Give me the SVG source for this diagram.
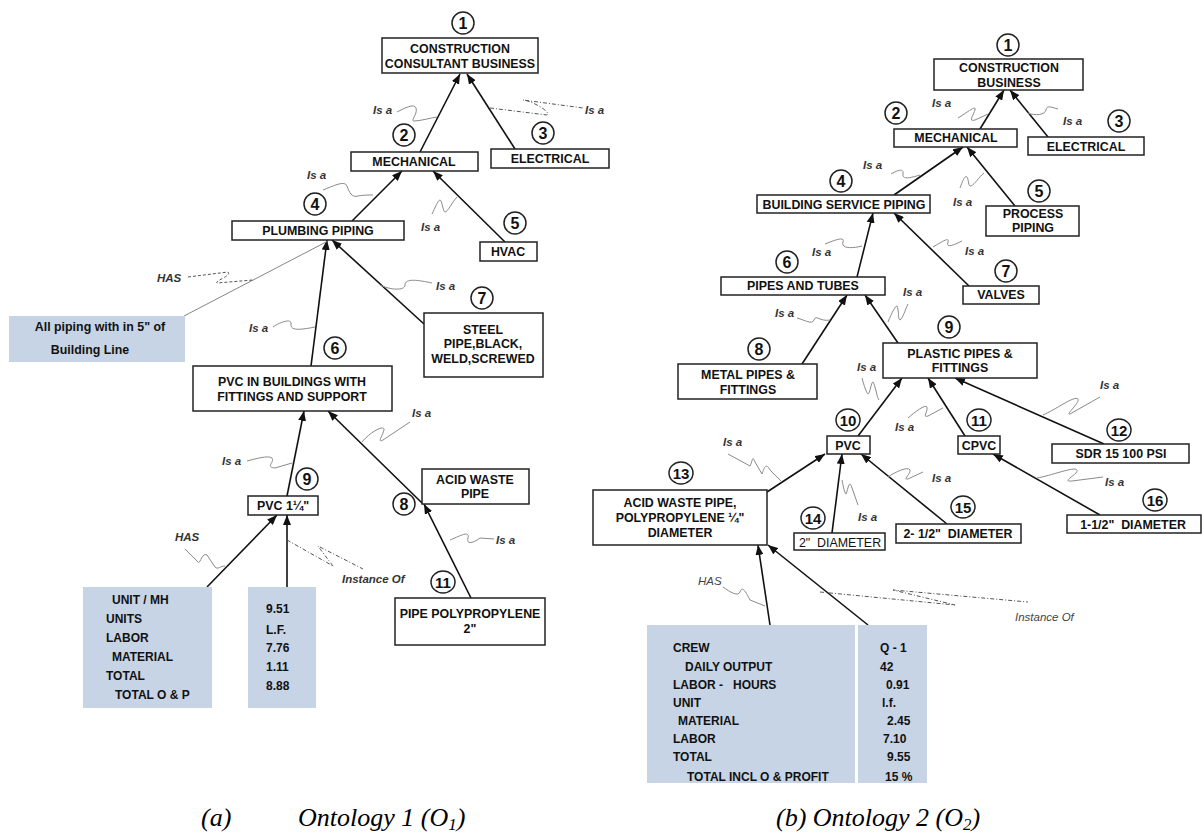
<svg xmlns="http://www.w3.org/2000/svg" width="1202" height="832" viewBox="0 0 1202 832">
<defs>
<marker id="ah" markerUnits="userSpaceOnUse" markerWidth="11" markerHeight="8" refX="10" refY="4" orient="auto">
<path d="M0,0 L10,4 L0,8 z" fill="#111"/>
</marker>
<style>
.box{fill:#fff;stroke:#222;stroke-width:1.5}
.circ{fill:#fff;stroke:#222;stroke-width:1.5}
.lbl{font-family:"Liberation Sans",Arial,sans-serif;font-weight:bold;font-size:12.4px;fill:#111;text-anchor:middle}
.reg{font-weight:normal}
.num{font-family:"Liberation Sans",Arial,sans-serif;font-weight:bold;font-size:16px;fill:#111;text-anchor:middle}
.num2{font-size:15px}
.arr{stroke:#111;stroke-width:1.6;fill:none;marker-end:url(#ah)}
.thin{stroke:#777;stroke-width:0.9;fill:none}
.sq{stroke:#8a8a8a;stroke-width:1;fill:none}
.dd{stroke:#555;stroke-width:1;fill:none;stroke-dasharray:4 2 1 2}
.ds{stroke:#555;stroke-width:1;fill:none;stroke-dasharray:3 2}
.rel{font-family:"Liberation Sans",Arial,sans-serif;font-style:italic;font-weight:bold;font-size:11.5px;fill:#333}
.relr{font-weight:normal;fill:#444}
.blue{fill:#c6d4e6}
.tbl{font-family:"Liberation Sans",Arial,sans-serif;font-weight:bold;font-size:12px;fill:#111}
.cap{font-family:"Liberation Serif","Times New Roman",serif;font-style:italic;font-size:26px;fill:#000}
</style>
</defs>
<rect width="1202" height="832" fill="#fff"/>

<!-- ===== Connectors ===== -->
<g id="connectors">
<!-- left ontology -->
<line class="arr" x1="420" y1="152" x2="460" y2="74"/>
<line class="arr" x1="515" y1="149" x2="467" y2="74"/>
<line class="arr" x1="352" y1="221" x2="402" y2="171"/>
<line class="arr" x1="505" y1="242" x2="433" y2="171"/>
<line class="arr" x1="311" y1="366" x2="327" y2="240"/>
<line class="arr" x1="424" y1="324" x2="332" y2="240"/>
<line class="thin" x1="184" y1="316" x2="328" y2="241"/>
<line class="arr" x1="287" y1="496" x2="304" y2="411"/>
<line class="arr" x1="422" y1="503" x2="328" y2="411"/>
<line class="arr" x1="471" y1="598" x2="424" y2="504"/>
<line class="arr" x1="207" y1="587" x2="277" y2="515"/>
<line class="arr" x1="287" y1="587" x2="287" y2="515"/>
<!-- left relation squiggles -->
<path class="sq" d="M397,112 C405,108 414,103 416,108 C418,114 410,121 414,121 C420,121 430,118 437,117"/>
<path class="dd" d="M490,108 L547,115 C552,112 530,100 523,100 L583,108"/>
<path class="sq" d="M323,190 C333,186 345,180 347,186 C349,192 352,198 358,196 C363,195 368,195 373,195"/>
<path class="sq" d="M432,214 C435,208 438,200 440,200 C442,200 443,212 445,212 C448,212 452,202 457,197"/>
<path class="ds" d="M188,277 L228,272 C232,276 214,281 217,283 L253,280"/>
<path class="sq" d="M273,327 C280,322 292,318 291,324 C290,331 300,330 315,327"/>
<path class="sq" d="M380,285 C390,290 405,291 405,285 C405,278 418,280 432,283"/>
<path class="sq" d="M362,442 C370,432 385,424 384,430 C382,437 377,443 383,440 L410,422"/>
<path class="sq" d="M247,461 C255,459 268,455 272,458 C275,462 265,467 275,468 L292,463"/>
<path class="sq" d="M185,549 L198,562 C200,565 202,552 207,555 L215,567 C218,570 220,566 225,566"/>
<path class="dd" d="M287,540 L333,566 C336,570 320,549 318,546 L363,569"/>
<path class="sq" d="M450,540 C460,536 470,530 468,538 C466,546 475,542 480,538 L494,539"/>

<!-- right ontology -->
<line class="arr" x1="980" y1="129" x2="1004" y2="90"/>
<line class="arr" x1="1048" y1="137" x2="1010" y2="90"/>
<line class="arr" x1="894" y1="195" x2="963" y2="147"/>
<line class="arr" x1="1015" y1="206" x2="967" y2="147"/>
<line class="arr" x1="857" y1="277" x2="873" y2="213"/>
<line class="arr" x1="969" y1="286" x2="894" y2="213"/>
<line class="arr" x1="802" y1="364" x2="847" y2="295"/>
<line class="arr" x1="898" y1="343" x2="865" y2="295"/>
<line class="arr" x1="858" y1="436" x2="902" y2="378"/>
<line class="arr" x1="965" y1="436" x2="928" y2="378"/>
<line class="arr" x1="1104" y1="444" x2="955" y2="378"/>
<line class="arr" x1="767" y1="492" x2="825" y2="454"/>
<line class="arr" x1="832" y1="533" x2="842" y2="454"/>
<line class="arr" x1="947" y1="524" x2="861" y2="454"/>
<line class="arr" x1="1100" y1="515" x2="993" y2="454"/>
<line class="arr" x1="770" y1="625" x2="758" y2="545"/>
<line class="arr" x1="868" y1="625" x2="768" y2="545"/>
<!-- right relation squiggles -->
<path class="sq" d="M958,118 C965,114 977,104 975,110 C973,116 968,122 975,120 L988,114"/>
<path class="sq" d="M1028,113 C1035,116 1045,115 1046,110 C1047,105 1050,107 1058,109"/>
<path class="sq" d="M891,174 C898,170 904,168 903,174 C902,180 910,178 920,175"/>
<path class="sq" d="M960,188 C963,180 965,175 967,177 C969,180 968,187 971,186 C975,184 979,177 984,173"/>
<path class="sq" d="M825,244 C835,240 845,236 843,242 C841,248 850,249 862,246"/>
<path class="sq" d="M933,247 C940,243 950,236 948,242 C946,248 952,246 962,241"/>
<path class="sq" d="M888,322 C892,312 896,305 897,306 C899,310 898,320 900,320 C903,318 905,310 908,304"/>
<path class="sq" d="M797,318 C805,320 812,325 814,320 C816,314 820,322 830,320"/>
<path class="sq" d="M862,378 C864,386 867,394 868,394 C870,394 871,382 873,382 C875,384 877,398 879,400"/>
<path class="sq" d="M908,418 C915,412 925,404 927,407 C928,412 922,418 928,416 L943,408"/>
<path class="sq" d="M1043,415 C1055,410 1075,395 1078,399 C1080,403 1065,415 1070,414 L1100,397"/>
<path class="sq" d="M728,454 L750,466 C753,460 752,455 755,462 L762,474 C764,468 766,462 770,470 L782,482"/>
<path class="sq" d="M842,480 C843,486 845,494 846,494 C848,490 849,478 852,488 L858,505"/>
<path class="sq" d="M888,477 C895,472 908,466 910,470 C911,474 902,480 908,479 L923,472"/>
<path class="sq" d="M1037,478 C1050,476 1075,466 1077,470 C1079,474 1060,482 1072,481 L1103,477"/>
<path class="sq" d="M723,587 C730,592 738,597 740,592 C742,586 745,590 750,600 L765,606"/>
<path class="dd" d="M820,592 L955,605 L893,590 L1028,602"/>
</g>

<!-- ===== Relation labels ===== -->
<g id="relation-labels">
<text class="rel" x="373" y="114">Is a</text>
<text class="rel" x="585" y="114">Is a</text>
<text class="rel" x="307" y="179">Is a</text>
<text class="rel" x="421" y="231">Is a</text>
<text class="rel" x="157" y="282">HAS</text>
<text class="rel" x="249" y="332">Is a</text>
<text class="rel" x="436" y="290">Is a</text>
<text class="rel" x="412" y="417">Is a</text>
<text class="rel" x="222" y="465">Is a</text>
<text class="rel" x="175" y="541">HAS</text>
<text class="rel" x="342" y="583">Instance Of</text>
<text class="rel" x="496" y="544">Is a</text>

<text class="rel" x="932" y="107">Is a</text>
<text class="rel" x="1063" y="125">Is a</text>
<text class="rel" x="863" y="169">Is a</text>
<text class="rel" x="953" y="206">Is a</text>
<text class="rel" x="812" y="256">Is a</text>
<text class="rel" x="965" y="255">Is a</text>
<text class="rel" x="903" y="296">Is a</text>
<text class="rel" x="775" y="317">Is a</text>
<text class="rel" x="857" y="371">Is a</text>
<text class="rel" x="895" y="431">Is a</text>
<text class="rel" x="1100" y="389">Is a</text>
<text class="rel" x="723" y="446">Is a</text>
<text class="rel" x="858" y="521">Is a</text>
<text class="rel" x="932" y="482">Is a</text>
<text class="rel" x="1105" y="486">Is a</text>
<text class="rel relr" x="698" y="585">HAS</text>
<text class="rel relr" x="1015" y="621">Instance Of</text>
</g>

<!-- ===== Left ontology nodes ===== -->
<g id="L1"><circle class="circ" cx="463" cy="23" r="11"/><text class="num" x="463" y="29">1</text>
<rect class="box" x="382" y="38" width="156" height="35"/><text class="lbl" x="460" y="52.5">CONSTRUCTION</text><text class="lbl" x="460" y="67.5">CONSULTANT BUSINESS</text></g>
<g id="L2"><circle class="circ" cx="404" cy="135" r="11"/><text class="num" x="404" y="141">2</text>
<rect class="box" x="351" y="152" width="127" height="19"/><text class="lbl" x="414" y="166">MECHANICAL</text></g>
<g id="L3"><circle class="circ" cx="543" cy="133" r="11"/><text class="num" x="543" y="139">3</text>
<rect class="box" x="491" y="149" width="118" height="19"/><text class="lbl" x="550" y="163">ELECTRICAL</text></g>
<g id="L4"><circle class="circ" cx="315" cy="204" r="11"/><text class="num" x="315" y="210">4</text>
<rect class="box" x="232" y="221" width="172" height="19"/><text class="lbl" x="318" y="235">PLUMBING PIPING</text></g>
<g id="L5"><circle class="circ" cx="515" cy="223" r="11"/><text class="num" x="515" y="229">5</text>
<rect class="box" x="480" y="242" width="57" height="19"/><text class="lbl" x="508" y="256">HVAC</text></g>
<g id="L-building-line"><rect class="blue" x="9" y="316" width="176" height="46"/>
<text class="lbl" x="100" y="331">All piping with in 5" of</text><text class="lbl" x="90" y="354">Building Line</text></g>
<g id="L6"><circle class="circ" cx="335" cy="348" r="11"/><text class="num" x="335" y="354">6</text>
<rect class="box" x="193" y="366" width="199" height="45"/><text class="lbl" x="292" y="385.5">PVC IN BUILDINGS WITH</text><text class="lbl" x="292" y="400.5">FITTINGS AND SUPPORT</text></g>
<g id="L7"><circle class="circ" cx="482" cy="298" r="11"/><text class="num" x="482" y="304">7</text>
<rect class="box" x="424" y="313" width="119" height="64"/><text class="lbl" x="483" y="333.5">STEEL</text><text class="lbl" x="483" y="348">PIPE,BLACK,</text><text class="lbl" x="483" y="362.5">WELD,SCREWED</text></g>
<g id="L9"><circle class="circ" cx="307" cy="479" r="11"/><text class="num" x="307" y="485">9</text>
<rect class="box" x="248" y="496" width="70" height="19"/><text class="lbl" x="283" y="510">PVC 1¼"</text></g>
<g id="L8"><circle class="circ" cx="404" cy="504" r="11"/><text class="num" x="404" y="510">8</text>
<rect class="box" x="422" y="469" width="107" height="35"/><text class="lbl" x="475" y="483.5">ACID WASTE</text><text class="lbl" x="475" y="497.5">PIPE</text></g>
<g id="L11"><ellipse class="circ" cx="443" cy="582" rx="12" ry="11"/><text class="num num2" x="443" y="587.5">11</text>
<rect class="box" x="395" y="598" width="150" height="47"/><text class="lbl" x="470" y="617.5">PIPE POLYPROPYLENE</text><text class="lbl" x="470" y="632.5">2"</text></g>
<g id="L-cost-data"><rect class="blue" x="83" y="587" width="129" height="121"/><rect class="blue" x="248" y="587" width="68" height="121"/>
<text class="tbl" x="112" y="603.5">UNIT / MH</text>
<text class="tbl" x="106" y="622.5">UNITS</text>
<text class="tbl" x="106" y="641.5">LABOR</text>
<text class="tbl" x="112" y="660.5">MATERIAL</text>
<text class="tbl" x="106" y="680">TOTAL</text>
<text class="tbl" x="115" y="698.5">TOTAL O &amp; P</text>
<text class="tbl" x="266" y="612.5">9.51</text>
<text class="tbl" x="266" y="633.5">L.F.</text>
<text class="tbl" x="266" y="651.5">7.76</text>
<text class="tbl" x="266" y="670.5">1.11</text>
<text class="tbl" x="266" y="689.5">8.88</text></g>

<!-- ===== Right ontology nodes ===== -->
<g id="R1"><circle class="circ" cx="1008" cy="45" r="11"/><text class="num" x="1008" y="51">1</text>
<rect class="box" x="934" y="59" width="149" height="31"/><text class="lbl" x="1009" y="71.5">CONSTRUCTION</text><text class="lbl" x="1009" y="86.5">BUSINESS</text></g>
<g id="R2"><circle class="circ" cx="896" cy="113" r="11"/><text class="num" x="896" y="119">2</text>
<rect class="box" x="894" y="129" width="123" height="18"/><text class="lbl" x="956" y="142">MECHANICAL</text></g>
<g id="R3"><circle class="circ" cx="1119" cy="121" r="11"/><text class="num" x="1119" y="127">3</text>
<rect class="box" x="1028" y="137" width="116" height="18"/><text class="lbl" x="1086" y="150.5">ELECTRICAL</text></g>
<g id="R4"><circle class="circ" cx="841" cy="181" r="11"/><text class="num" x="841" y="187">4</text>
<rect class="box" x="757" y="195" width="173" height="18"/><text class="lbl" x="844" y="208.5">BUILDING SERVICE PIPING</text></g>
<g id="R5"><circle class="circ" cx="1039" cy="191" r="11"/><text class="num" x="1039" y="197">5</text>
<rect class="box" x="986" y="206" width="93" height="30"/><text class="lbl" x="1033" y="217.5">PROCESS</text><text class="lbl" x="1033" y="231.5">PIPING</text></g>
<g id="R6"><circle class="circ" cx="787" cy="262" r="11"/><text class="num" x="787" y="268">6</text>
<rect class="box" x="721" y="277" width="164" height="18"/><text class="lbl" x="803" y="290">PIPES AND TUBES</text></g>
<g id="R7"><circle class="circ" cx="1006" cy="271" r="11"/><text class="num" x="1006" y="277">7</text>
<rect class="box" x="963" y="286" width="76" height="18"/><text class="lbl" x="1001" y="299">VALVES</text></g>
<g id="R8"><circle class="circ" cx="759" cy="349" r="11"/><text class="num" x="759" y="355">8</text>
<rect class="box" x="678" y="364" width="139" height="35"/><text class="lbl" x="748" y="378.5">METAL PIPES &amp;</text><text class="lbl" x="748" y="393.5">FITTINGS</text></g>
<g id="R9"><circle class="circ" cx="949" cy="327" r="11"/><text class="num" x="949" y="333">9</text>
<rect class="box" x="883" y="343" width="154" height="35"/><text class="lbl" x="960" y="357.5">PLASTIC PIPES &amp;</text><text class="lbl" x="960" y="371.5">FITTINGS</text></g>
<g id="R10"><ellipse class="circ" cx="848" cy="420" rx="12" ry="11"/><text class="num num2" x="848" y="425.5">10</text>
<rect class="box" x="827" y="436" width="43" height="18"/><text class="lbl" x="848" y="449.5">PVC</text></g>
<g id="R11"><ellipse class="circ" cx="979" cy="420" rx="12" ry="11"/><text class="num num2" x="979" y="425.5">11</text>
<rect class="box" x="958" y="436" width="42" height="18"/><text class="lbl" x="979" y="449.5">CPVC</text></g>
<g id="R12"><ellipse class="circ" cx="1119" cy="430" rx="12" ry="11"/><text class="num num2" x="1119" y="435.5">12</text>
<rect class="box" x="1052" y="444" width="137" height="19"/><text class="lbl" x="1121" y="458">SDR 15 100 PSI</text></g>
<g id="R13"><ellipse class="circ" cx="681" cy="473" rx="12" ry="11"/><text class="num num2" x="681" y="478.5">13</text>
<rect class="box" x="593" y="490" width="174" height="55"/><text class="lbl" x="680" y="506.5">ACID WASTE PIPE,</text><text class="lbl" x="680" y="522">POLYPROPYLENE ¼"</text><text class="lbl" x="680" y="536.5">DIAMETER</text></g>
<g id="R14"><ellipse class="circ" cx="813" cy="518" rx="12" ry="11"/><text class="num num2" x="813" y="523.5">14</text>
<rect class="box" x="794" y="533" width="91" height="17"/><text class="lbl reg" x="840" y="546.5" xml:space="preserve">2"  DIAMETER</text></g>
<g id="R15"><ellipse class="circ" cx="963" cy="507" rx="12" ry="11"/><text class="num num2" x="963" y="512.5">15</text>
<rect class="box" x="896" y="524" width="125" height="19"/><text class="lbl" x="958" y="538" xml:space="preserve">2- 1/2"  DIAMETER</text></g>
<g id="R16"><ellipse class="circ" cx="1155" cy="500" rx="12" ry="11"/><text class="num num2" x="1155" y="505.5">16</text>
<rect class="box" x="1067" y="515" width="134" height="18"/><text class="lbl" x="1133" y="528.5" xml:space="preserve">1-1/2"  DIAMETER</text></g>
<g id="R-cost-data"><rect class="blue" x="647" y="625" width="208" height="158"/><rect class="blue" x="858" y="625" width="69" height="158"/>
<text class="tbl" x="673" y="652">CREW</text>
<text class="tbl" x="685" y="671">DAILY OUTPUT</text>
<text class="tbl" x="673" y="689" xml:space="preserve">LABOR -   HOURS</text>
<text class="tbl" x="673" y="707">UNIT</text>
<text class="tbl" x="678" y="725">MATERIAL</text>
<text class="tbl" x="673" y="743">LABOR</text>
<text class="tbl" x="673" y="761">TOTAL</text>
<text class="tbl" x="687" y="781">TOTAL INCL O &amp; PROFIT</text>
<text class="tbl" x="880" y="652">Q - 1</text>
<text class="tbl" x="880" y="671">42</text>
<text class="tbl" x="886" y="689">0.91</text>
<text class="tbl" x="882" y="707">l.f.</text>
<text class="tbl" x="887" y="725">2.45</text>
<text class="tbl" x="883" y="743">7.10</text>
<text class="tbl" x="887" y="761">9.55</text>
<text class="tbl" x="885" y="781">15 %</text></g>

<!-- ===== Captions ===== -->
<g id="captions">
<text class="cap" x="201" y="826">(a)</text>
<text class="cap" x="298" y="826">Ontology 1 (O<tspan font-size="17" dy="4">1</tspan><tspan dy="-4">)</tspan></text>
<text class="cap" x="776" y="826">(b) Ontology 2 (O<tspan font-size="17" dy="4">2</tspan><tspan dy="-4">)</tspan></text>
</g>
</svg>
